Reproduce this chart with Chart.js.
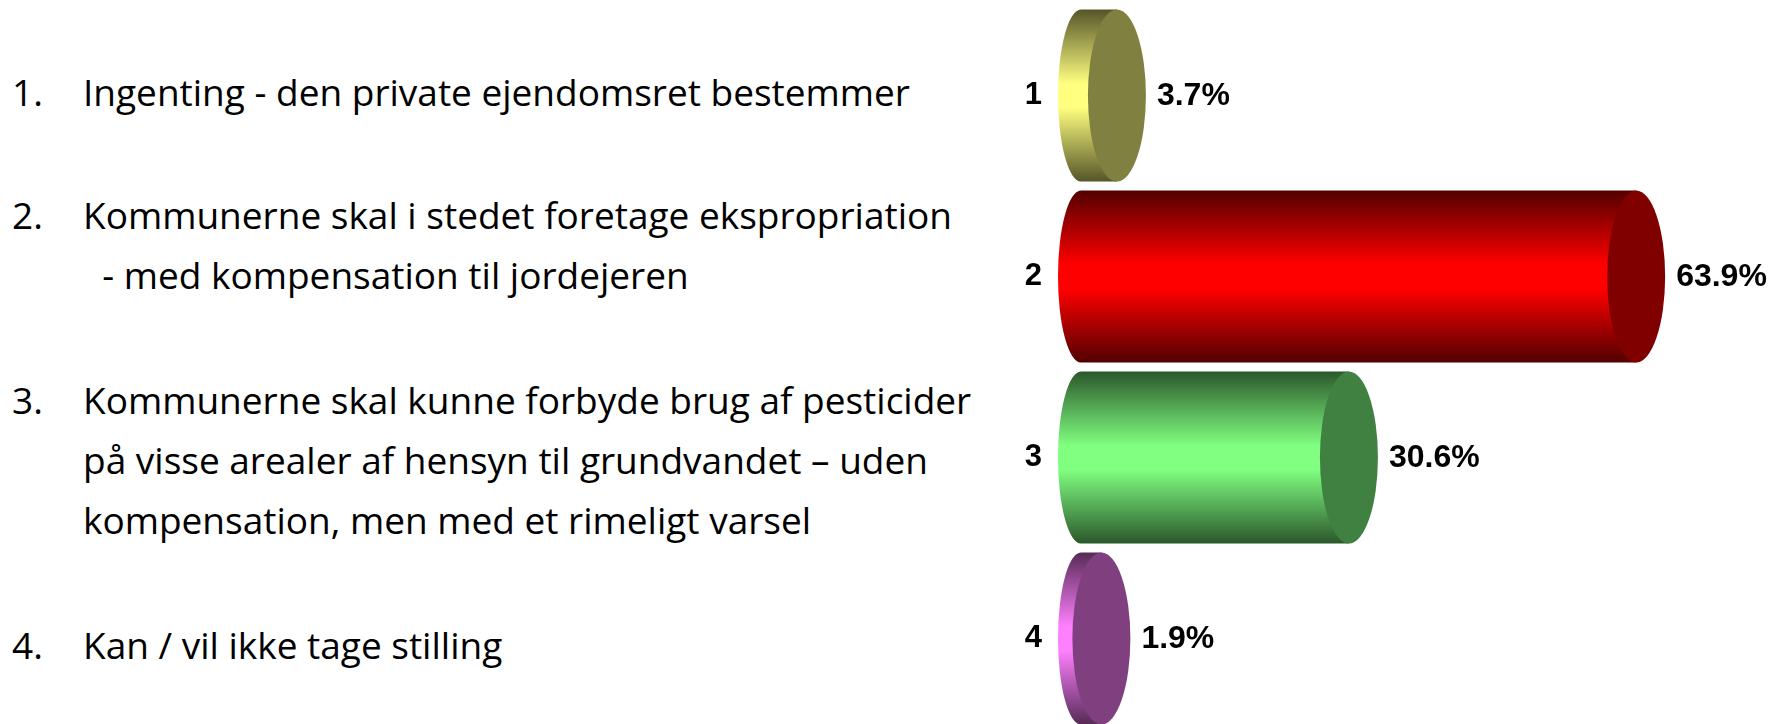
<!DOCTYPE html>
<html>
<head>
<meta charset="utf-8">
<script src="https://cdn.jsdelivr.net/npm/chart.js@4.4.1/dist/chart.umd.min.js"></script>
<style>
  html, body { margin: 0; padding: 0; background: #fff; overflow: hidden; }
  body { width: 1775px; height: 724px; position: relative; }
  .item { position: absolute; left: 0; font-family: "Open Sans", sans-serif; font-size: 37px; line-height: 60px; color: #000; }
  .item .num { position: absolute; left: 12px; top: 0; }
  .item .line { margin-left: 83px; white-space: pre; }
  #wrap { position: absolute; left: 1000px; top: 0; width: 775px; height: 735px; }
</style>
</head>
<body>
<div id="list"></div>
<div id="wrap"><canvas id="pollChart"></canvas></div>
<script>
// Data
const categories = ['1', '2', '3', '4'];
const values = [3.7, 63.9, 30.6, 1.9];
const descriptions = [
    ['Ingenting - den private ejendomsret bestemmer'],
    ['Kommunerne skal i stedet foretage ekspropriation', '  - med kompensation til jordejeren'],
    ['Kommunerne skal kunne forbyde brug af pesticider', 'på visse arealer af hensyn til grundvandet – uden', 'kompensation, men med et rimeligt varsel'],
    ['Kan / vil ikke tage stilling']
];

// Farver (lys midte, mørk kant, endeflade)
const brightColors = ['#ffff80', '#ff0000', '#80ff80', '#ff80ff'];
const darkColors = ['#555529', '#520000', '#2b572b', '#562a56'];
const capColors = ['#808040', '#800000', '#408040', '#804080'];
const itemTops = [62, 185, 370, 615];

// Venstre tekstliste
const list = document.getElementById('list');
descriptions.forEach((lines, i) => {
    const div = document.createElement('div');
    div.className = 'item';
    div.style.top = itemTops[i] + 'px';
    const num = document.createElement('span');
    num.className = 'num';
    num.textContent = categories[i] + '.';
    div.appendChild(num);
    lines.forEach(l => {
        const ln = document.createElement('div');
        ln.className = 'line';
        ln.textContent = l;
        div.appendChild(ln);
    });
    list.appendChild(div);
});

// Cylindre
const cylinderPlugin = {
    id: 'cylinders',
    afterDatasetsDraw(chart) {
        const ctx = chart.ctx;
        const meta = chart.getDatasetMeta(0);
        const rx = 29;      // endeflade
        const backRx = 23;  // bagende (perspektiv)
        meta.data.forEach((bar, i) => {
            const { x, y, base, height } = bar.getProps(['x', 'y', 'base', 'height'], true);
            const ry = height / 2;
            const top = y - ry, bottom = y + ry;

            const g = ctx.createLinearGradient(0, top, 0, bottom);
            g.addColorStop(0, darkColors[i]);
            g.addColorStop(0.43, brightColors[i]);
            g.addColorStop(0.57, brightColors[i]);
            g.addColorStop(1, darkColors[i]);

            ctx.save();
            ctx.beginPath();
            ctx.ellipse(base - 4, y, backRx, ry, 0, Math.PI / 2, Math.PI * 3 / 2);
            ctx.lineTo(x, top);
            ctx.lineTo(x, bottom);
            ctx.closePath();
            ctx.fillStyle = g;
            ctx.fill();

            ctx.beginPath();
            ctx.ellipse(x, y, rx, ry, 0, 0, Math.PI * 2);
            ctx.fillStyle = capColors[i];
            ctx.fill();

            ctx.fillStyle = '#000';
            ctx.font = 'bold 32px Arial, "Liberation Sans", sans-serif';
            ctx.textAlign = 'left';
            ctx.textBaseline = 'middle';
            ctx.fillText(values[i].toFixed(1) + '%', x + rx + 11, y + 1);
            ctx.restore();
        });
    }
};

const pollCtx = document.getElementById('pollChart').getContext('2d');
const pollChart = new Chart(pollCtx, {
    type: 'bar',
    data: {
        labels: categories,
        datasets: [{
            data: values,
            backgroundColor: 'rgba(0,0,0,0)',
            borderWidth: 0,
            barPercentage: 0.95,
            categoryPercentage: 1
        }]
    },
    options: {
        indexAxis: 'y',
        responsive: true,
        maintainAspectRatio: false,
        animation: false,
        devicePixelRatio: 1,
        layout: { padding: { top: 5, bottom: 6, left: 0, right: 0 } },
        plugins: {
            legend: { display: false },
            tooltip: { enabled: false }
        },
        scales: {
            x: { min: 0, max: 80, display: false },
            y: {
                grid: { display: false, drawTicks: false },
                border: { display: false },
                ticks: {
                    padding: 43,
                    color: '#000',
                    font: { size: 31, weight: 'bold', family: 'Arial, "Liberation Sans", sans-serif' }
                },
                afterFit(scale) {
                    scale.width = 85;
                    scale.paddingTop = 0;
                    scale.paddingBottom = 0;
                }
            }
        }
    },
    plugins: [cylinderPlugin]
});
</script>
</body>
</html>
